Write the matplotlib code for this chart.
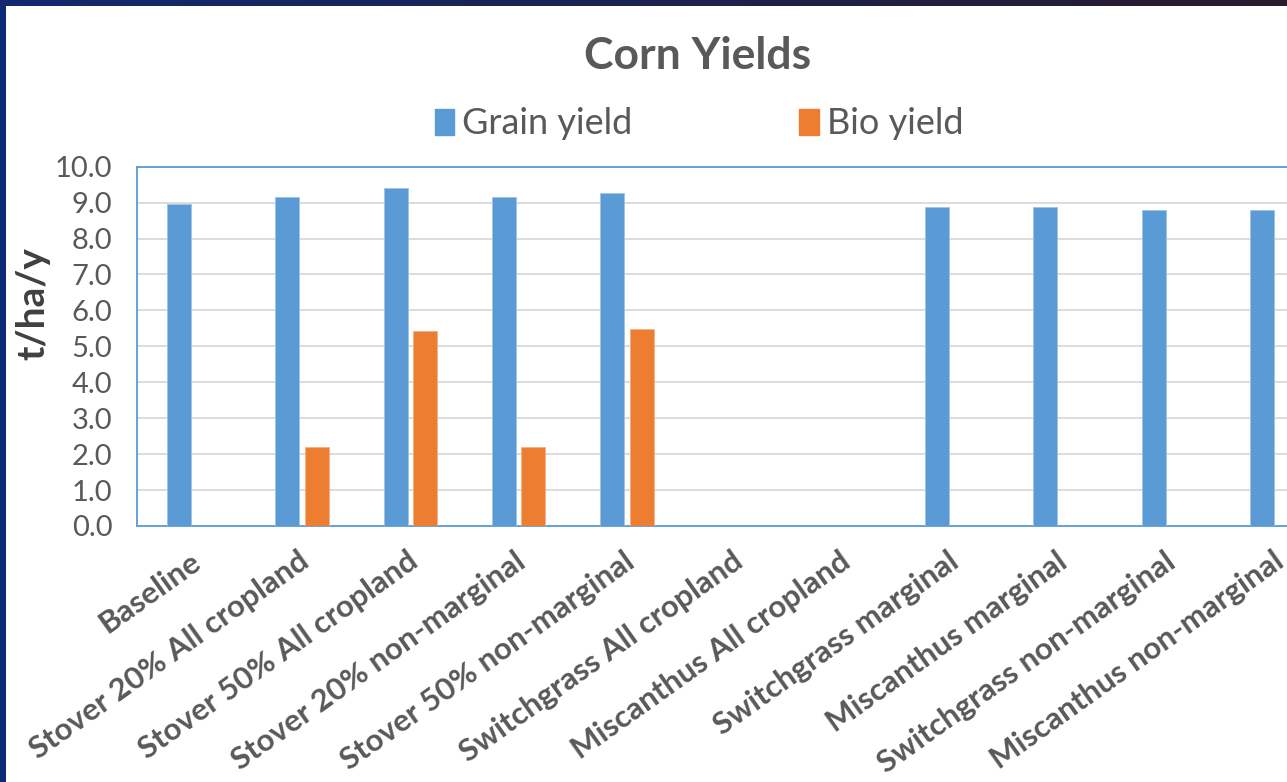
import numpy as np
import matplotlib.pyplot as plt
from matplotlib.patches import Rectangle, Patch
from matplotlib.colors import LinearSegmentedColormap
from matplotlib.transforms import ScaledTranslation

categories = [
    "Baseline", "Stover 20% All cropland", "Stover 50% All cropland",
    "Stover 20% non-marginal", "Stover 50% non-marginal",
    "Switchgrass All cropland", "Miscanthus All cropland",
    "Switchgrass marginal", "Miscanthus marginal",
    "Switchgrass non-marginal", "Miscanthus non-marginal",
]
grain_yield = [8.95, 9.15, 9.42, 9.15, 9.28, np.nan, np.nan, 8.87, 8.87, 8.79, 8.79]
bio_yield = [np.nan, 2.19, 5.43, 2.19, 5.48, np.nan, np.nan, np.nan, np.nan, np.nan, np.nan]
y_ticks = [0, 1, 2, 3, 4, 5, 6, 7, 8, 9, 10]

plt.rcParams["font.family"] = ["Lato", "DejaVu Sans"]
W, H = 1287, 782
fig = plt.figure(figsize=(W / 100, H / 100), dpi=100)
fig.patch.set_facecolor("#0c2a76")

# screenshot frame: navy gradient on top, navy on the left, white page
top = fig.add_axes([0, 1 - 6 / H, 1, 6 / H], zorder=-4)
top.set_axis_off()
cmap = LinearSegmentedColormap.from_list("frame", ["#13296e", "#1c2250", "#2a1c2c"])
top.imshow(np.linspace(0, 1, 256).reshape(1, -1), aspect="auto", cmap=cmap)
fig.patches.append(Rectangle((6 / W, 0), 1, 1 - 6 / H, transform=fig.transFigure,
                             facecolor="white", edgecolor="none", zorder=-3))

ax = fig.add_axes([137.3 / W, 1 - 526 / H, (1331 - 137.3) / W, (526 - 166.7) / H])
x = np.arange(len(categories))
w = 0.222
off = 0.136
ax.bar(x - off, grain_yield, w, color="#5b9bd5", edgecolor="#9dc3e6", linewidth=0.6, zorder=3)
ax.bar(x + off, bio_yield, w, color="#ed7d31", edgecolor="#f4b183", linewidth=0.6, zorder=3)

ax.set_xlim(-0.52, 10.5)
ax.set_ylim(0, 10)
ax.set_yticks(y_ticks)
ax.set_yticklabels([f"{v:.1f}" for v in y_ticks], fontsize=21, color="#595959")
ax.tick_params(axis="y", length=0, pad=18)
ax.grid(axis="y", color="#d9d9d9", linewidth=1.3, zorder=0)
for s in ax.spines.values():
    s.set_color("#5b9bd5")
    s.set_linewidth(1.3)

ax.set_xticks(x)
ax.set_xticklabels(categories, fontsize=22.5, fontweight="bold", color="#595959",
                   rotation=35.5, ha="right", va="top", rotation_mode="anchor")
ax.tick_params(axis="x", length=0, pad=15)
for lbl in ax.get_xticklabels():
    lbl.set_transform(lbl.get_transform() + ScaledTranslation(-0.04, 0, fig.dpi_scale_trans))

ax.set_ylabel("t/ha/y", fontsize=28, fontweight="bold", color="#404040")
ax.yaxis.set_label_coords(-0.073, 0.62)

fig.text(0.542, 1 - 56 / H, "Corn Yields", fontsize=32, fontweight="bold",
         color="#595959", ha="center", va="center")
handles = [Patch(color="#5b9bd5"), Patch(color="#ed7d31")]
fig.legend(handles, ["Grain yield", "Bio yield"], loc="center",
           bbox_to_anchor=(0.543, 1 - 124 / H), ncol=2, frameon=False,
           fontsize=26, labelcolor="#595959", handlelength=0.55, handleheight=0.7,
           handletextpad=0.22, columnspacing=4.6)

fig.savefig("out.png", dpi=100)
